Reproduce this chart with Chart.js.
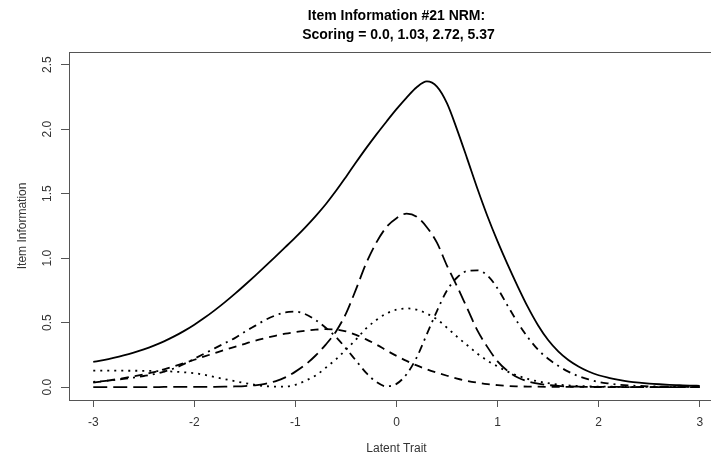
<!DOCTYPE html>
<html>
<head>
<meta charset="utf-8">
<title>Item Information #21 NRM</title>
<script src="https://cdn.jsdelivr.net/npm/chart.js@4.4.1/dist/chart.umd.min.js"></script>
<style>
  html, body { margin: 0; padding: 0; background: #fff; overflow: hidden; }
  #wrap { width: 792px; height: 462px; }
</style>
</head>
<body>
<div id="wrap"><canvas id="infoChart" width="792" height="462"></canvas></div>
<script>
// latent trait grid
const theta = [
  -3.0, -2.9, -2.8, -2.7, -2.6, -2.5, -2.4, -2.3, -2.2, -2.1,
  -2.0, -1.9, -1.8, -1.7, -1.6, -1.5, -1.4, -1.3, -1.2, -1.1,
  -1.0, -0.9, -0.8, -0.7, -0.6, -0.5, -0.4, -0.3, -0.2, -0.1,
   0.0,  0.1,  0.2,  0.3,  0.4,  0.5,  0.6,  0.7,  0.8,  0.9,
   1.0,  1.1,  1.2,  1.3,  1.4,  1.5,  1.6,  1.7,  1.8,  1.9,
   2.0,  2.1,  2.2,  2.3,  2.4,  2.5,  2.6,  2.7,  2.8,  2.9,
   3.0
];

// item information (solid)
const itemInfo = [
  0.195, 0.21, 0.227, 0.246, 0.268, 0.293, 0.322, 0.355, 0.393, 0.436,
  0.484, 0.537, 0.595, 0.657, 0.723, 0.792, 0.863, 0.936, 1.01, 1.085,
  1.161, 1.241, 1.326, 1.418, 1.52, 1.63, 1.743, 1.853, 1.958, 2.058,
  2.155, 2.245, 2.325, 2.37, 2.33, 2.2, 1.995, 1.77, 1.54, 1.325,
  1.13, 0.95, 0.78, 0.62, 0.48, 0.365, 0.277, 0.21, 0.16, 0.121,
  0.092, 0.072, 0.056, 0.043, 0.034, 0.027, 0.022, 0.018, 0.015, 0.012,
  0.01
];

// category information curves
const catLongDash = [
  0, 0, 0, 0, 0, 0, 0, 0.001, 0.001, 0.001,
  0.001, 0.002, 0.002, 0.003, 0.005, 0.008, 0.014, 0.025, 0.045, 0.075,
  0.12, 0.175, 0.245, 0.33, 0.43, 0.57, 0.76, 0.96, 1.12, 1.24,
  1.31, 1.345, 1.32, 1.24, 1.12, 0.94, 0.78, 0.61, 0.44, 0.31,
  0.20, 0.125, 0.075, 0.045, 0.027, 0.016, 0.009, 0.005, 0.003, 0.002,
  0.001, 0.001, 0.001, 0, 0, 0, 0, 0, 0, 0,
  0
];

const catDash = [
  0.035, 0.045, 0.057, 0.07, 0.084, 0.099, 0.116, 0.138, 0.162, 0.187,
  0.212, 0.238, 0.263, 0.288, 0.312, 0.336, 0.36, 0.38, 0.398, 0.414,
  0.427, 0.437, 0.445, 0.449, 0.446, 0.432, 0.405, 0.37, 0.33, 0.285,
  0.242, 0.203, 0.168, 0.138, 0.112, 0.088, 0.066, 0.048, 0.034, 0.023,
  0.015, 0.009, 0.006, 0.004, 0.003, 0.002, 0.001, 0.001, 0.001, 0.001,
  0, 0, 0, 0, 0, 0, 0, 0, 0, 0,
  0
];

const catDotDash = [
  0.04, 0.047, 0.055, 0.064, 0.074, 0.086, 0.10, 0.12, 0.145, 0.18,
  0.22, 0.26, 0.30, 0.34, 0.38, 0.43, 0.475, 0.52, 0.555, 0.58,
  0.585, 0.565, 0.52, 0.46, 0.39, 0.30, 0.205, 0.11, 0.04, 0.006,
  0.025, 0.10, 0.23, 0.41, 0.59, 0.75, 0.85, 0.90, 0.905, 0.865,
  0.765, 0.63, 0.50, 0.385, 0.29, 0.22, 0.165, 0.12, 0.085, 0.06,
  0.04, 0.028, 0.019, 0.013, 0.009, 0.006, 0.004, 0.003, 0.002, 0.001,
  0.001
];

const catDotted = [
  0.128, 0.128, 0.128, 0.127, 0.127, 0.126, 0.125, 0.123, 0.12, 0.115,
  0.108, 0.095, 0.078, 0.062, 0.046, 0.031, 0.018, 0.008, 0.003, 0.004,
  0.018, 0.05, 0.09, 0.15, 0.215, 0.29, 0.37, 0.455, 0.52, 0.57,
  0.60, 0.61, 0.60, 0.57, 0.525, 0.46, 0.39, 0.325, 0.26, 0.205,
  0.16, 0.12, 0.088, 0.063, 0.044, 0.03, 0.02, 0.013, 0.009, 0.006,
  0.004, 0.003, 0.002, 0.002, 0.001, 0.001, 0.001, 0.001, 0.001, 0.001,
  0.001
];

const xTicks = [-3, -2, -1, 0, 1, 2, 3];
const yTicks = [0, 0.5, 1, 1.5, 2, 2.5];

function toPoints(values) {
  return theta.map(function (t, i) { return { x: t, y: values[i] }; });
}

function curve(values, dash) {
  return {
    data: toPoints(values),
    borderColor: "#000",
    borderWidth: 1.8,
    borderDash: dash,
    pointRadius: 0,
    fill: false,
    cubicInterpolationMode: "monotone"
  };
}

// frame round the plotting region
const plotBox = {
  id: "plotBox",
  afterDraw: function (chart) {
    const a = chart.chartArea;
    const ctx = chart.ctx;
    ctx.save();
    ctx.strokeStyle = "#555";
    ctx.lineWidth = 1;
    ctx.strokeRect(Math.round(a.left) + 0.5, Math.round(a.top) + 0.5,
      Math.round(a.right - a.left), Math.round(a.bottom - a.top));
    ctx.restore();
  }
};

Chart.defaults.font.family = "'Liberation Sans', Arial, sans-serif";
Chart.defaults.color = "#333";

new Chart(document.getElementById("infoChart").getContext("2d"), {
  type: "line",
  data: {
    datasets: [
      curve(itemInfo, []),
      curve(catLongDash, [14, 6]),
      curve(catDash, [8, 6]),
      curve(catDotDash, [2, 5, 8, 5]),
      curve(catDotted, [2, 5])
    ]
  },
  plugins: [plotBox],
  options: {
    responsive: false,
    animation: false,
    layout: { padding: { left: 0, top: 0, right: 68, bottom: 0 } },
    plugins: {
      legend: { display: false },
      tooltip: { enabled: false },
      title: {
        display: true,
        fullSize: false,
        text: ["Item Information #21 NRM:", " Scoring = 0.0, 1.03, 2.72, 5.37"],
        color: "#000",
        font: { size: 14, weight: "bold", lineHeight: 1.35 },
        padding: { top: 7, bottom: 7 }
      }
    },
    scales: {
      x: {
        type: "linear",
        min: -3.24,
        max: 3.24,
        afterFit: function (scale) { scale.height = 62; },
        afterBuildTicks: function (scale) {
          scale.ticks = xTicks.map(function (v) { return { value: v }; });
        },
        ticks: {
          font: { size: 12 },
          padding: 8,
          maxRotation: 0,
          callback: function (v) { return String(v); }
        },
        grid: { drawOnChartArea: false, drawTicks: true, tickLength: 7, color: "#555" },
        border: { display: false },
        title: {
          display: true,
          text: "Latent Trait",
          font: { size: 12 },
          padding: { top: 0, bottom: 6 }
        }
      },
      y: {
        type: "linear",
        min: -0.1,
        max: 2.6,
        afterFit: function (scale) { scale.width = 69; },
        afterBuildTicks: function (scale) {
          scale.ticks = yTicks.map(function (v) { return { value: v }; });
        },
        ticks: {
          font: { size: 12 },
          padding: 5,
          minRotation: 90,
          maxRotation: 90,
          crossAlign: "center",
          callback: function (v) { return Number(v).toFixed(1); }
        },
        grid: { drawOnChartArea: false, drawTicks: true, tickLength: 8, color: "#555" },
        border: { display: false },
        title: {
          display: true,
          text: "Item Information",
          font: { size: 12 },
          padding: { top: 15, bottom: 0 }
        }
      }
    }
  }
});
</script>
</body>
</html>
